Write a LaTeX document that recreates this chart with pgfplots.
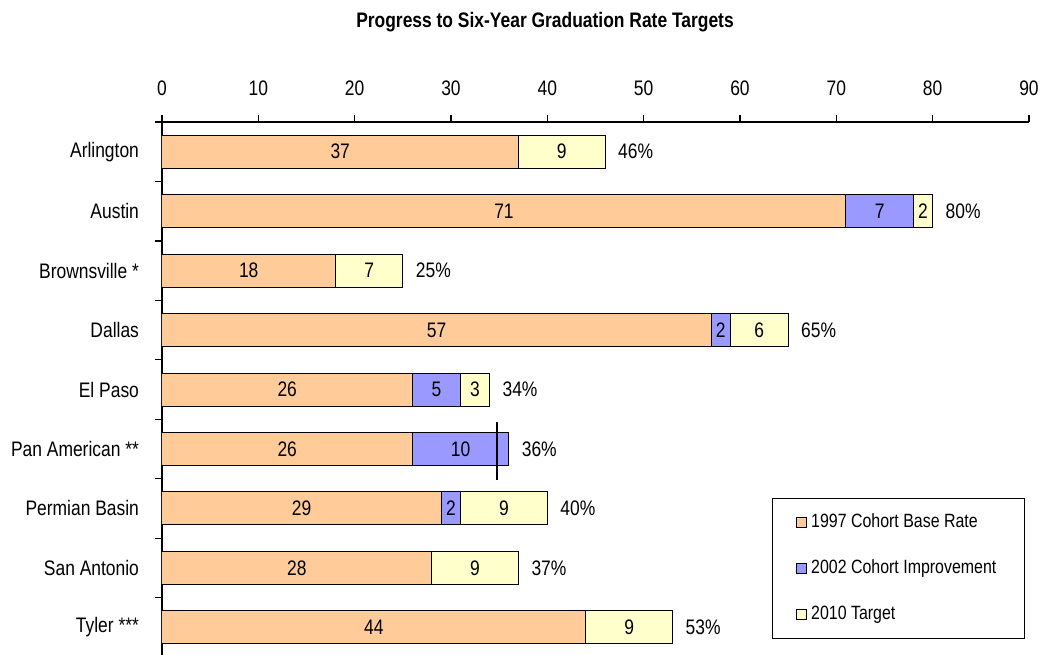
\documentclass[border=0pt]{standalone}
\usepackage{pgfplots}
\pgfplotsset{compat=1.18}
\usepackage{fontspec}
\setmainfont{Liberation Sans}[FakeStretch=0.83]
\definecolor{cOrange}{HTML}{FFCC99}
\definecolor{cBlue}{HTML}{9999FF}
\definecolor{cYellow}{HTML}{FFFFCC}
\pgfplotsset{
  common/.style={
    at={(0,0)}, anchor=south west,
    scale only axis, width=433.5pt, height=267.5pt,
    xmin=0, xmax=90, ymin=0.5, ymax=9.5,
  },
}
\begin{document}
\begin{tikzpicture}[font=\fontsize{10.5}{12.6}\selectfont]
\useasboundingbox (-81pt,1.5pt) rectangle (440.5pt,328.5pt);
\node[font=\bfseries\fontsize{10.5}{12.6}\selectfont] at (191.5pt,317.5pt) {Progress to Six-Year Graduation Rate Targets};
\begin{axis}[
  common,
  xbar stacked, bar width=16.5pt,
  axis x line*=top, axis y line*=left,
  axis line style={-, black, line width=0.6pt},
  tick align=outside, major tick length=3.5pt,
  tick style={black, line width=0.6pt},
  xtick={0,10,...,90},
  xticklabel style={yshift=6pt},
  ytick={0.5,1.5,...,9.5}, yticklabel={\relax},
  extra y ticks={1,...,9},
  extra y tick labels={Tyler ***, San Antonio, Permian Basin, Pan American **, El Paso, Dallas, Brownsville *, Austin, Arlington},
  extra y tick style={major tick length=0pt, yticklabel style={xshift=-8pt}},
  /pgf/number format/assume math mode=true,
  legend style={at={(rel axis cs:0.7036,0.297)}, anchor=north west, draw=black, fill=white,
    row sep=10.8pt, inner xsep=12pt, inner ysep=5.5pt, font=\fontsize{9.6}{11.5}\selectfont},
  legend cell align=left,
  legend image code/.code={\draw[#1, draw=black, line width=0.4pt] (0pt,-2.5pt) rectangle (5pt,2.5pt);},
]
\addplot[fill=cOrange, draw=black, line width=0.5pt] coordinates {
 (37,9) (71,8) (18,7) (57,6) (26,5) (26,4) (29,3) (28,2) (44,1)};
\addplot[fill=cBlue, draw=black, line width=0.5pt] coordinates {
 (0,9) (7,8) (0,7) (2,6) (5,5) (10,4) (2,3) (0,2) (0,1)};
\addplot[fill=cYellow, draw=black, line width=0.5pt] coordinates {
 (9,9) (2,8) (7,7) (6,6) (3,5) (0,4) (9,3) (9,2) (9,1)};
\legend{1997 Cohort Base Rate, 2002 Cohort Improvement, 2010 Target}
\end{axis}
\begin{axis}[
  common, hide axis, clip=false,
]
% Pan American target marker line
\addplot[black, line width=1pt, mark=none] coordinates {(34.8,3.48) (34.8,4.45)};
% segment values, placed at segment centres
\addplot[draw=none, mark=none, nodes near coords, point meta=explicit symbolic,
  nodes near coords style={anchor=center, text=black}] coordinates {
 (18.5,9)[37] (41.5,9)[9]
 (35.5,8)[71] (74.5,8)[7] (79,8)[2]
 (9,7)[18] (21.5,7)[7]
 (28.5,6)[57] (58,6)[2] (62,6)[6]
 (13,5)[26] (28.5,5)[5] (32.5,5)[3]
 (13,4)[26] (31,4)[10]
 (14.5,3)[29] (30,3)[2] (35.5,3)[9]
 (14,2)[28] (32.5,2)[9]
 (22,1)[44] (48.5,1)[9]};
% totals at bar ends
\addplot[draw=none, mark=none, nodes near coords, point meta=explicit symbolic,
  nodes near coords style={anchor=west, text=black, xshift=3pt}] coordinates {
 (46,9)[46\%] (80,8)[80\%] (25,7)[25\%] (65,6)[65\%] (34,5)[34\%]
 (36,4)[36\%] (40,3)[40\%] (37,2)[37\%] (53,1)[53\%]};
\end{axis}
\end{tikzpicture}
\end{document}
